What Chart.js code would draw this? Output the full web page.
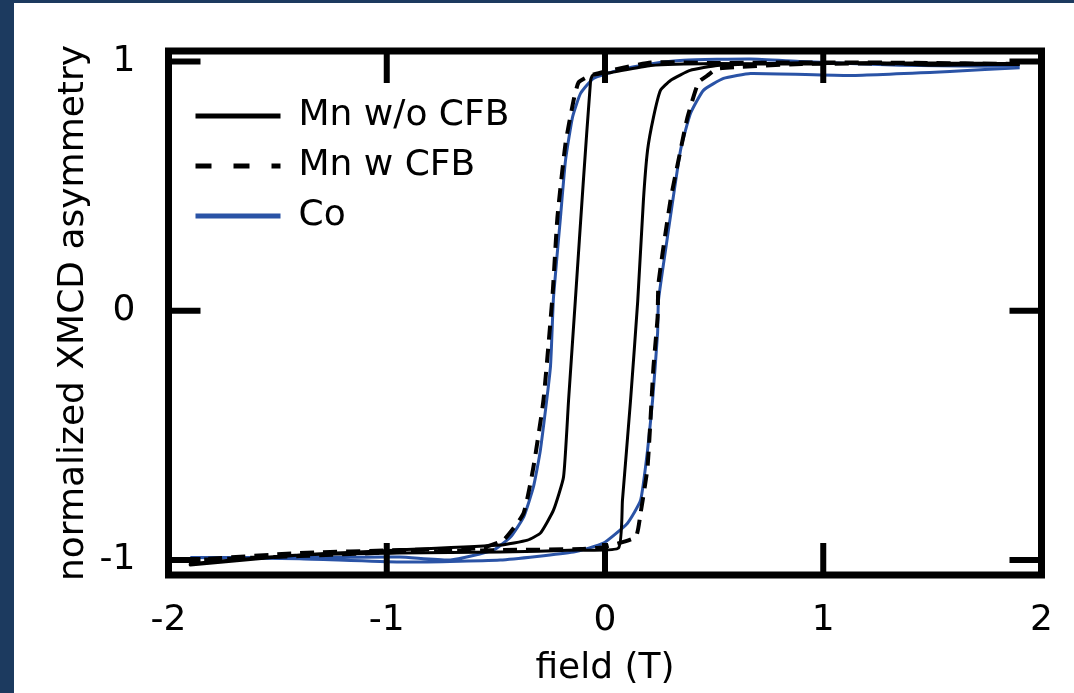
<!DOCTYPE html>
<html>
<head>
<meta charset="utf-8">
<title>XMCD hysteresis</title>
<script src="https://cdn.jsdelivr.net/npm/chart.js@4.4.1/dist/chart.umd.min.js"></script>
<style>
    html, body { margin: 0; padding: 0; background: #1c3a5f; }
    #wrap { position: absolute; left: 14px; top: 3px; width: 1060px; height: 690px; background: #fff; }
</style>
</head>
<body>
<div id="wrap"><canvas id="chart" width="1060" height="690"></canvas></div>
<script>
// --------- Données -------------------------------
const xTicks = [-2, -1, 0, 1, 2];
const yTicks = [-1, 0, 1];

// Mn w/o CFB : branche descendante puis montante
const fieldMnNoCFB = [1.9, 1.5, 1.2, 0.9, 0.5, 0.21, 0.03, -0.057, -0.066, -0.1, -0.135, -0.167, -0.19, -0.236, -0.296, -0.355, -0.48, -0.94, -1.4, -1.9,
    -1.9, -1.4, -0.94, -0.48, -0.13, 0.062, 0.08, 0.117, 0.15, 0.176, 0.195, 0.222, 0.254, 0.3, 0.39, 0.515, 0.9, 1.4, 1.9];
const asymMnNoCFB = [0.99, 0.985, 0.995, 0.99, 0.992, 0.984, 0.956, 0.944, 0.924, 0.51, 0.054, -0.36, -0.667, -0.8, -0.892, -0.92, -0.94, -0.96, -0.98, -1.02,
    -1.015, -0.98, -0.972, -0.968, -0.96, -0.952, -0.76, -0.36, 0.04, 0.443, 0.644, 0.776, 0.884, 0.924, 0.964, 0.984, 0.995, 0.99, 0.99];

// Mn w CFB
const fieldMnCFB = [1.9, 1.4, 0.9, 0.5, 0.21, 0.025, -0.066, -0.121, -0.144, -0.181, -0.218, -0.241, -0.282, -0.328, -0.373, -0.465, -0.57, -0.94, -1.4, -1.9,
    -1.9, -1.4, -0.94, -0.48, -0.11, -0.007, 0.14, 0.163, 0.195, 0.222, 0.241, 0.245, 0.3, 0.346, 0.378, 0.428, 0.47, 0.515, 0.9, 1.4, 1.9];
const asymMnCFB = [0.99, 0.995, 0.996, 0.994, 0.996, 0.964, 0.944, 0.916, 0.844, 0.671, 0.375, 0.054, -0.359, -0.627, -0.812, -0.92, -0.952, -0.96, -0.972, -1.0,
    -1.0, -0.984, -0.968, -0.96, -0.956, -0.948, -0.908, -0.812, -0.627, -0.226, -0.026, 0.11, 0.443, 0.644, 0.776, 0.916, 0.944, 0.972, 0.99, 0.992, 0.99];

// Co
const fieldCo = [1.9, 1.35, 0.9, 0.667, 0.36, 0.208, 0.057, -0.053, -0.112, -0.149, -0.181, -0.204, -0.236, -0.25, -0.296, -0.328, -0.373, -0.433, -0.511, -0.708, -0.94, -1.4, -1.9,
    -1.9, -1.4, -0.94, -0.48, -0.144, -0.007, 0.103, 0.163, 0.195, 0.218, 0.241, 0.245, 0.286, 0.346, 0.392, 0.451, 0.543, 0.667, 1.125, 1.58, 1.9];
const asymCo = [0.98, 0.985, 1.0, 1.01, 1.005, 0.99, 0.964, 0.932, 0.872, 0.776, 0.603, 0.375, 0.054, -0.226, -0.559, -0.707, -0.828, -0.908, -0.96, -1.0, -0.988, -0.99, -0.99,
    -0.99, -0.995, -1.008, -1.0, -0.968, -0.932, -0.852, -0.76, -0.559, -0.359, -0.09, 0.042, 0.295, 0.644, 0.792, 0.884, 0.932, 0.952, 0.944, 0.96, 0.975];

const toPoints = (xs, ys) => xs.map((x, i) => ({ x: x, y: ys[i] }));

// --------- Cadre épais + graduations intérieures ----------
const framePlugin = {
    id: "frame",
    afterLayout(chart) {
        // légende placée à l'intérieur du cadre, en haut à gauche
        const a = chart.chartArea;
        chart.legend.left = a.left + 13;
        chart.legend.top = a.top + 33;
        chart.legend.bottom = a.bottom;
    },
    afterDatasetsDraw(chart) {
        const { ctx, chartArea: a, scales: { x, y } } = chart;
        const len = 32;
        ctx.save();
        ctx.strokeStyle = "#000";
        ctx.lineCap = "butt";
        ctx.lineWidth = 6;
        ctx.beginPath();
        xTicks.forEach(v => {
            const px = x.getPixelForValue(v);
            ctx.moveTo(px, a.bottom); ctx.lineTo(px, a.bottom - len);
            ctx.moveTo(px, a.top); ctx.lineTo(px, a.top + len);
        });
        yTicks.forEach(v => {
            const py = y.getPixelForValue(v);
            ctx.moveTo(a.left, py); ctx.lineTo(a.left + len, py);
            ctx.moveTo(a.right, py); ctx.lineTo(a.right - len, py);
        });
        ctx.stroke();
        ctx.lineWidth = 7;
        ctx.strokeRect(a.left, a.top, a.right - a.left, a.bottom - a.top);
        ctx.restore();
    }
};

Chart.defaults.font.family = "'DejaVu Sans', sans-serif";
Chart.defaults.font.size = 36;
Chart.defaults.color = "#000";

new Chart(document.getElementById("chart"), {
    type: "line",
    data: {
        datasets: [{
            label: "Mn w/o CFB",
            data: toPoints(fieldMnNoCFB, asymMnNoCFB),
            borderColor: "#000",
            borderWidth: 3
        }, {
            label: "Mn w CFB",
            data: toPoints(fieldMnCFB, asymMnCFB),
            borderColor: "#000",
            borderWidth: 4,
            borderDash: [14, 9]
        }, {
            label: "Co",
            data: toPoints(fieldCo, asymCo),
            borderColor: "#2a53a6",
            borderWidth: 3
        }]
    },
    options: {
        responsive: false,
        animation: false,
        parsing: false,
        elements: { point: { radius: 0 }, line: { tension: 0.15, fill: false } },
        layout: { padding: { left: 0, top: 48, right: 32.5, bottom: 0 } },
        plugins: {
            tooltip: { enabled: false },
            legend: {
                position: "chartArea",
                align: "start",
                labels: {
                    usePointStyle: true,
                    pointStyle: "line",
                    pointStyleWidth: 85,
                    padding: 14,
                    font: { size: 36 },
                    generateLabels(chart) {
                        const items = Chart.defaults.plugins.legend.labels.generateLabels(chart);
                        items.forEach(it => {
                            it.lineWidth = 5;
                            if (it.text === "Mn w CFB") {
                                it.lineDash = [16, 22];
                                it.lineDashOffset = 0;
                            }
                        });
                        return items;
                    }
                }
            }
        },
        scales: {
            x: {
                type: "linear",
                min: -2,
                max: 2,
                grid: { display: false },
                border: { display: false },
                ticks: { padding: 16 },
                afterBuildTicks: s => { s.ticks = xTicks.map(v => ({ value: v })); },
                afterFit: s => { s.height = 118; },
                title: { display: true, text: "field (T)", padding: { top: 0, bottom: 3 } }
            },
            y: {
                min: -1.06,
                max: 1.042,
                grid: { display: false },
                border: { display: false },
                ticks: { padding: 25 },
                afterBuildTicks: s => { s.ticks = yTicks.map(v => ({ value: v })); },
                afterFit: s => { s.width = 154.5; },
                title: { display: true, text: "normalized XMCD asymmetry", padding: { top: 38, bottom: 0 } }
            }
        }
    },
    plugins: [framePlugin]
});
</script>
</body>
</html>
